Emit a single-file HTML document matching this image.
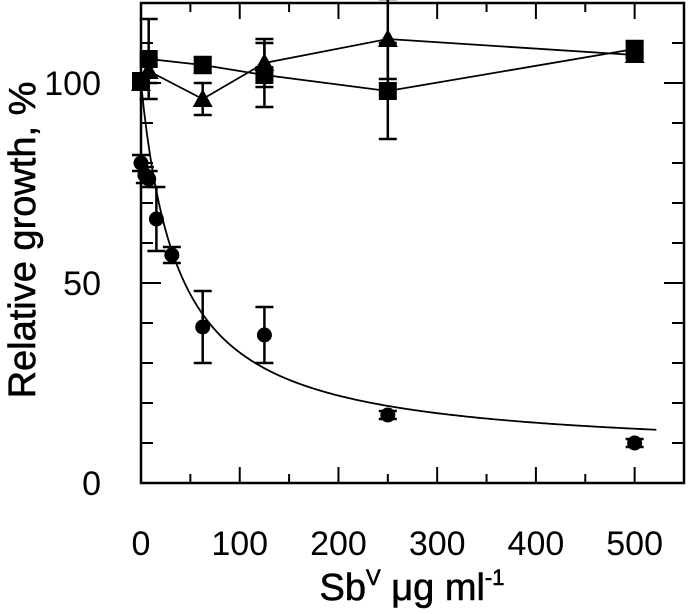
<!DOCTYPE html>
<html><head><meta charset="utf-8"><style>body{margin:0;background:#fff}svg{display:block;font-family:"Liberation Sans",Arial,sans-serif}</style></head>
<body>
<svg id="chart" width="690" height="614" viewBox="0 0 690 614" xmlns="http://www.w3.org/2000/svg"></svg>
<script>
const doses=[0,7.8,62.5,125,250,500];
const squareVals=[100.5,106,104.5,102,98,108.5];
const squareErr=[0,10,2,8,12,2];
const triVals=[100,103,96,105,111,107];
const triErr=[0,3,4,6,10,1];
const circDoses=[0,3.9,7.8,15.6,31.25,62.5,125,250,500];
const circVals=[80,77,76,66,57,39,37,17,10];
const circErr=[2,2,2,8,2,9,7,1,1];
const xTicks=[0,100,200,300,400,500];
const yTicks=[0,50,100];
const X0=141,X1=684,Y0=483,Y1=3,XMAX=550,YMAX=120;
const sx=v=>X0+v*(X1-X0)/XMAX, sy=v=>Y0-v*(Y0-Y1)/YMAX;
const svg=document.getElementById('chart');const NS='http://www.w3.org/2000/svg';
function mk(t,a,p){const e=document.createElementNS(NS,t);for(const k in a)e.setAttribute(k,a[k]);(p||svg).appendChild(e);return e;}
let e=mk('rect',{x:X0,y:Y1,width:X1-X0,height:Y0-Y1,fill:'none',stroke:'#000','stroke-width':2.5});


for(let v=0;v<=XMAX;v+=50){const L=v%100===0?16:9;
mk('line',{x1:sx(v),x2:sx(v),y1:Y0,y2:Y0-L,stroke:'#000','stroke-width':2});
mk('line',{x1:sx(v),x2:sx(v),y1:Y1,y2:Y1+L,stroke:'#000','stroke-width':2});}
for(let v=0;v<=YMAX;v+=10){const L=v%50===0?20:12;
mk('line',{x1:X0,x2:X0+L,y1:sy(v),y2:sy(v),stroke:'#000','stroke-width':2});
mk('line',{x1:X1,x2:X1-L,y1:sy(v),y2:sy(v),stroke:'#000','stroke-width':2});}
xTicks.forEach(v=>{const t=mk('text',{x:sx(v),y:555,'font-size':34,'text-anchor':'middle'});t.textContent=v;

});
yTicks.forEach(v=>{const t=mk('text',{x:101,y:sy(v)+12,'font-size':34,'text-anchor':'end'});t.textContent=v;

});
let t=mk('text',{x:412,y:600,'font-size':38,'text-anchor':'middle',stroke:'#000','stroke-width':0.6});
t.innerHTML='Sb<tspan font-size="22" dy="-15">V</tspan><tspan dy="15"> μg ml</tspan><tspan font-size="22" dy="-15">-1</tspan>';


t=mk('text',{x:0,y:0,'font-size':38,'text-anchor':'middle',stroke:'#000','stroke-width':0.6,transform:'translate(35,240) rotate(-90)'});t.textContent='Relative growth, %';


let d='';for(let x=0;x<=522;x+=3){const y=7+93*38/(38+x);d+=(x?'L':'M')+sx(x)+','+sy(y);}
e=mk('path',{d:d,fill:'none',stroke:'#000','stroke-width':1.8});


function line(xs,ys,name){let p='';xs.forEach((x,i)=>p+=(i?'L':'M')+sx(x)+','+sy(ys[i]));const l=mk('path',{d:p,fill:'none',stroke:'#000','stroke-width':1.8});

}
line(doses,squareVals,'square-series-line');line(doses,triVals,'triangle-series-line');
function err(x,v,er){if(!er)return;const g=mk('g',{stroke:'#000','stroke-width':2.5});
mk('line',{x1:sx(x),x2:sx(x),y1:sy(v-er),y2:sy(v+er)},g);
mk('line',{x1:sx(x)-9,x2:sx(x)+9,y1:sy(v-er),y2:sy(v-er)},g);
mk('line',{x1:sx(x)-9,x2:sx(x)+9,y1:sy(v+er),y2:sy(v+er)},g);

}
doses.forEach((x,i)=>{err(x,squareVals[i],squareErr[i]);const r=mk('rect',{x:sx(x)-9,y:sy(squareVals[i])-9,width:18,height:18,fill:'#000'});

});
doses.forEach((x,i)=>{err(x,triVals[i],triErr[i]);const cx=sx(x),cy=sy(triVals[i]);const p=mk('polygon',{points:`${cx},${cy-10} ${cx-10},${cy+8} ${cx+10},${cy+8}`,fill:'#000'});

});
circDoses.forEach((x,i)=>{err(x,circVals[i],circErr[i]);const c=mk('circle',{cx:sx(x),cy:sy(circVals[i]),r:7.5,fill:'#000'});

});
</script>
</body></html>
